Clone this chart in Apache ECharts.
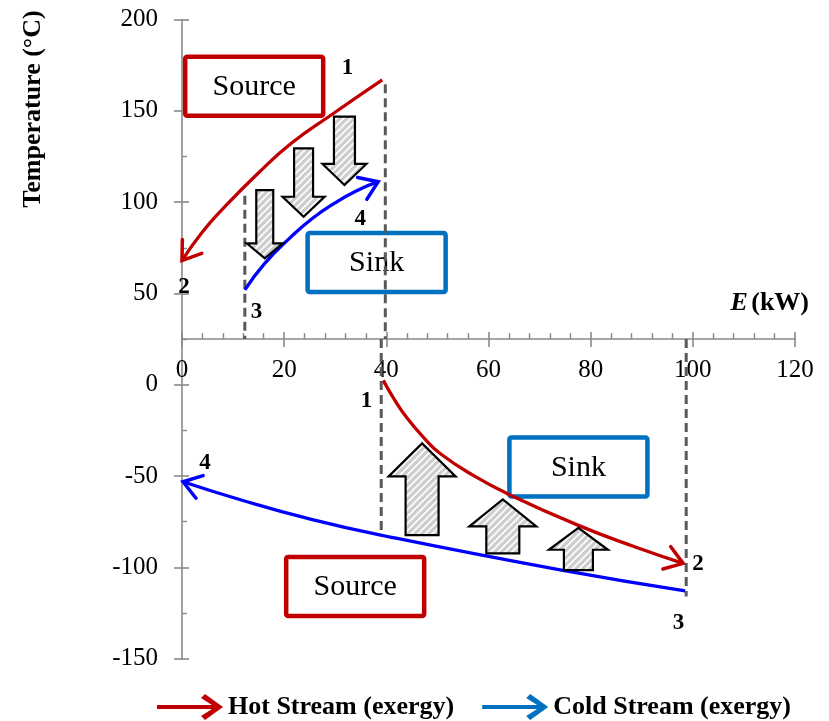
<!DOCTYPE html>
<html>
<head>
<meta charset="utf-8">
<script src="https://cdn.jsdelivr.net/npm/echarts@6/dist/echarts.min.js"></script>
<style>
html,body{margin:0;padding:0;background:#fff;}
#chart{width:829px;height:721px;}
</style>
</head>
<body>
<div id="chart"></div>
<script>
// ---------- data ----------
const xTicks = [0, 20, 40, 60, 80, 100, 120];
const yTicks = [-150, -100, -50, 0, 50, 100, 150, 200];
const xAxisCrossAt = 25;

// Hot stream (exergy), upper: flows from point 1 (E=40) to point 2 (E=0)
const hotUpper = [[0, 68], [3.8, 83], [8.4, 97.5], [14.9, 115.8], [21.4, 132.2], [29.2, 147.7], [39.2, 166.9]];
// Cold stream (exergy), upper: flows from point 3 to point 4
const coldUpper = [[12.3, 51.9], [16.2, 66.5], [21.4, 81.1], [25.5, 91], [29.8, 99.3], [34, 106], [38.4, 111.2]];
// Hot stream (exergy), lower: from point 1 to point 2
const hotLower = [[39.4, 2.4], [41.5, -7.7], [44.1, -18.4], [47.4, -29.2], [50.6, -37.8], [57.1, -49.8], [63.6, -59.5], [77.6, -77.0], [88.6, -88.7], [98.1, -97.8]];
// Cold stream (exergy), lower: from point 3 to point 4
const coldLower = [[0.2, -53.1], [11.6, -63.1], [24.6, -73.2], [38.9, -82.3], [74.3, -101.5], [98.5, -112.8]];

// Dashed guide lines [E, Tfrom, Tto]
const guides = [[12.3, 103.5, 25], [39.8, 164.5, 25], [39.0, 25, -82.3], [98.7, 25, -116]];

// Heat-transfer arrows [E, Tfrom, Tto]
const downArrows = [[16.2, 106.6, 69.2], [23.8, 129.4, 92.0], [31.8, 146.8, 109.4]];
const upArrows = [[47.0, -82.3, -32.1], [62.8, -92.3, -62.8], [77.6, -101.5, -78.3]];

// Boxes
const boxCenters = [[14.13, 163.4], [38.1, 67.0], [77.6, -45.0], [33.9, -110.4]];
const boxTexts = ['Source', 'Sink', 'Sink', 'Source'];

// Point labels
const pointPos = [[32.4, 173.4], [0.4, 53.5], [14.6, 39.8], [34.9, 90.8], [36.1, -8.9], [4.5, -42.9], [101, -98.2], [97.2, -130.3]];
const pointTexts = ['1', '2', '3', '4', '1', '4', '2', '3'];

// ---------- styles ----------
const RED = '#C00000', BLUE = '#0000FF', LEG_BLUE = '#0070C0', DASH = '#595959', AXIS = '#898989';
const SERIF = '"Liberation Serif", "Times New Roman", serif';
// pixel shapes for arrows (shaft width, head width, head length)
const downShapes = [{sw: 17, hw: 36, hl: 15}, {sw: 19, hw: 42, hl: 20}, {sw: 21, hw: 44, hl: 21}];
const upShapes = [{sw: 33, hw: 67, hl: 33}, {sw: 33, hw: 67, hl: 27}, {sw: 29, hw: 59, hl: 22}];

function makePattern() {
  const c = document.createElement('canvas');
  c.width = 7; c.height = 7;
  const g = c.getContext('2d');
  g.fillStyle = '#cdcdcd';
  g.fillRect(0, 0, 7, 7);
  g.strokeStyle = '#ffffff';
  g.lineWidth = 1.6;
  g.beginPath();
  g.moveTo(-1, 8); g.lineTo(8, -1);
  g.moveTo(-1, 1); g.lineTo(1, -1);
  g.moveTo(6, 8); g.lineTo(8, 6);
  g.stroke();
  return c;
}
const hatch = {image: makePattern(), repeat: 'repeat'};

function arrowRender(shapes) {
  return function (params, api) {
    const x = api.value(0), y0 = api.value(1), y1 = api.value(2);
    const p0 = api.coord([x, y0]), p1 = api.coord([x, y1]);
    const s = shapes[params.dataIndex];
    const cx = p0[0];
    const dir = Math.sign(p1[1] - p0[1]);
    const hb = p1[1] - dir * s.hl;
    const pts = [
      [cx - s.sw / 2, p0[1]], [cx + s.sw / 2, p0[1]], [cx + s.sw / 2, hb],
      [cx + s.hw / 2, hb], [cx, p1[1]], [cx - s.hw / 2, hb], [cx - s.sw / 2, hb]
    ];
    return {type: 'polygon', shape: {points: pts}, style: {fill: hatch, stroke: '#000', lineWidth: 2.2, lineJoin: 'miter'}};
  };
}

function headRender(color) {
  return function (params, api) {
    const tip = api.coord([api.value(0), api.value(1)]);
    const from = api.coord([api.value(2), api.value(3)]);
    const ang = Math.atan2(from[1] - tip[1], from[0] - tip[0]);
    const L = 21, a = 0.6;
    const p1 = [tip[0] + L * Math.cos(ang + a), tip[1] + L * Math.sin(ang + a)];
    const p2 = [tip[0] + L * Math.cos(ang - a), tip[1] + L * Math.sin(ang - a)];
    return {type: 'polyline', shape: {points: [p1, tip, p2]}, style: {stroke: color, lineWidth: 3.5, fill: null, lineJoin: 'miter', lineCap: 'round'}};
  };
}

const hotHeads = [
  [hotUpper[0][0], hotUpper[0][1], hotUpper[1][0], hotUpper[1][1]],
  [hotLower[hotLower.length - 1][0], hotLower[hotLower.length - 1][1], hotLower[hotLower.length - 2][0], hotLower[hotLower.length - 2][1]]
];
const coldHeads = [
  [coldUpper[coldUpper.length - 1][0], coldUpper[coldUpper.length - 1][1], coldUpper[coldUpper.length - 2][0], coldUpper[coldUpper.length - 2][1]],
  [coldLower[0][0], coldLower[0][1], coldLower[1][0], coldLower[1][1]]
];

const arrowIcon = 'path://M0,11 L58,11 L58,15 L0,15 Z M48,0 L66,13 L48,26 L44,22 L58,13 L44,4 Z';

const chart = echarts.init(document.getElementById('chart'), null, {renderer: 'canvas'});

const xMin = xTicks[0], xMax = xTicks[xTicks.length - 1], xInt = xTicks[1] - xTicks[0];
const yMin = yTicks[0], yMax = yTicks[yTicks.length - 1], yInt = yTicks[1] - yTicks[0];

// grid geometry
const G = {left: 182, right: 34, top: 19.5, bottom: 62.3};
const plotH = 721 - G.top - G.bottom;
const crossPx = G.top + (yMax - xAxisCrossAt) / (yMax - yMin) * plotH;

const lineBase = {type: 'line', smooth: 0.5, symbol: 'none', xAxisIndex: 0, yAxisIndex: 0, z: 4};

const option = {
  backgroundColor: '#fff',
  animation: false,
  grid: [
    {left: G.left, right: G.right, top: G.top, bottom: G.bottom, containLabel: false},
    {left: G.left, right: G.right, top: G.top, bottom: 721 - crossPx, containLabel: false}
  ],
  legend: {
    left: 152, top: 689, itemWidth: 66, itemHeight: 26, itemGap: 28, selectedMode: false,
    textStyle: {fontFamily: SERIF, fontWeight: 'bold', fontSize: 26, color: '#000'},
    data: [
      {name: 'Hot Stream (exergy)', icon: arrowIcon, itemStyle: {color: RED}},
      {name: 'Cold Stream (exergy)', icon: arrowIcon, itemStyle: {color: LEG_BLUE}}
    ]
  },
  xAxis: [
    {gridIndex: 0, type: 'value', min: xMin, max: xMax, interval: xInt, show: false},
    {
      gridIndex: 1, type: 'value', min: xMin, max: xMax, interval: xInt, position: 'bottom',
      axisLine: {show: true, onZero: false, lineStyle: {color: AXIS, width: 1.6}},
      axisTick: {show: true, inside: true, length: 7, lineStyle: {color: AXIS, width: 1.6}},
      minorTick: {show: true, splitNumber: 5, length: 6, lineStyle: {color: AXIS, width: 1.4}},
      axisLabel: {margin: 19, color: '#000', fontFamily: SERIF, fontSize: 25},
      splitLine: {show: false}
    },
    {
      gridIndex: 1, type: 'value', min: xMin, max: xMax, interval: xInt, position: 'bottom',
      axisLine: {show: false, onZero: false},
      axisTick: {show: true, inside: false, length: 8, lineStyle: {color: AXIS, width: 1.6}},
      axisLabel: {show: false}, splitLine: {show: false}
    }
  ],
  yAxis: [
    {
      gridIndex: 0, type: 'value', min: yMin, max: yMax, interval: yInt, position: 'left',
      axisLine: {show: true, lineStyle: {color: AXIS, width: 1.6}},
      axisTick: {show: true, inside: true, length: 7, lineStyle: {color: AXIS, width: 1.6}},
      minorTick: {show: true, splitNumber: 2, length: 5, lineStyle: {color: AXIS, width: 1.4}},
      axisLabel: {margin: 24, color: '#000', fontFamily: SERIF, fontSize: 25},
      splitLine: {show: false}
    },
    {
      gridIndex: 0, type: 'value', min: yMin, max: yMax, interval: yInt, position: 'left',
      axisLine: {show: false},
      axisTick: {show: true, inside: false, length: 8, lineStyle: {color: AXIS, width: 1.6}},
      axisLabel: {show: false}, splitLine: {show: false}
    },
    {gridIndex: 1, type: 'value', min: xAxisCrossAt, max: yMax, show: false}
  ],
  graphic: [
    {
      type: 'text', x: 33, y: 109, rotation: Math.PI / 2, z: 10,
      style: {text: 'Temperature (°C)', align: 'center', verticalAlign: 'middle', fill: '#000',
        font: 'bold 26px ' + SERIF}
    },
    {
      type: 'text', x: 809, y: 303, z: 10,
      style: {
        text: '{a|E} {b|(kW)}', align: 'right', verticalAlign: 'middle', fill: '#000',
        rich: {
          a: {fontStyle: 'italic', fontWeight: 'bold', fontSize: 26, fontFamily: SERIF, fill: '#000'},
          b: {fontWeight: 'bold', fontSize: 26, fontFamily: SERIF, fill: '#000'}
        }
      }
    }
  ],
  series: [
    {
      type: 'custom', name: 'boxes', z: 1, silent: true, clip: false,
      data: boxCenters,
      renderItem: function (params, api) {
        const c = api.coord([api.value(0), api.value(1)]);
        const txt = boxTexts[params.dataIndex];
        const col = txt === 'Source' ? RED : LEG_BLUE;
        return {
          type: 'group', children: [
            {type: 'rect', shape: {x: c[0] - 69, y: c[1] - 29.5, width: 138, height: 59, r: 2},
              style: {fill: '#fff', stroke: col, lineWidth: 4.5}},
            {type: 'text', style: {text: txt, x: c[0], y: c[1] + 1, align: 'center', verticalAlign: 'middle',
              font: '30px ' + SERIF, fill: '#000'}}
          ]
        };
      }
    },
    {
      type: 'custom', name: 'guides', z: 2, silent: true, clip: false,
      data: guides,
      renderItem: function (params, api) {
        const a = api.coord([api.value(0), api.value(1)]);
        const b = api.coord([api.value(0), api.value(2)]);
        return {type: 'line', shape: {x1: a[0], y1: a[1], x2: b[0], y2: b[1]},
          style: {stroke: DASH, lineWidth: 3, lineDash: [9, 5]}};
      }
    },
    Object.assign({}, lineBase, {name: 'Hot Stream (exergy)', data: hotUpper, lineStyle: {color: RED, width: 3.3}, itemStyle: {color: RED}}),
    Object.assign({}, lineBase, {name: 'Hot Stream (exergy)', data: hotLower, lineStyle: {color: RED, width: 3.3}, itemStyle: {color: RED}}),
    Object.assign({}, lineBase, {name: 'Cold Stream (exergy)', data: coldUpper, lineStyle: {color: BLUE, width: 3.3}, itemStyle: {color: BLUE}}),
    Object.assign({}, lineBase, {name: 'Cold Stream (exergy)', data: coldLower, lineStyle: {color: BLUE, width: 3.3}, itemStyle: {color: BLUE}}),
    {type: 'custom', name: 'hotHeads', z: 5, silent: true, clip: false, data: hotHeads, renderItem: headRender(RED)},
    {type: 'custom', name: 'coldHeads', z: 5, silent: true, clip: false, data: coldHeads, renderItem: headRender(BLUE)},
    {type: 'custom', name: 'down', z: 6, silent: true, clip: false, data: downArrows, renderItem: arrowRender(downShapes)},
    {type: 'custom', name: 'up', z: 6, silent: true, clip: false, data: upArrows, renderItem: arrowRender(upShapes)},
    {
      type: 'custom', name: 'points', z: 7, silent: true, clip: false,
      data: pointPos,
      renderItem: function (params, api) {
        const c = api.coord([api.value(0), api.value(1)]);
        return {type: 'text', style: {text: pointTexts[params.dataIndex], x: c[0], y: c[1], align: 'center',
          verticalAlign: 'middle', font: 'bold 23px ' + SERIF, fill: '#000'}};
      }
    }
  ]
};
chart.setOption(option);
</script>
</body>
</html>
